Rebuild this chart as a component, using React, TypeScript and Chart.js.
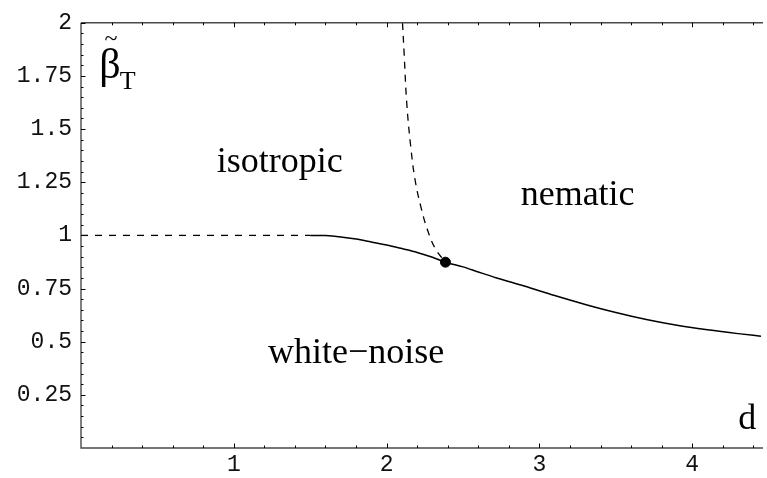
import React, { useEffect, useRef } from "react";
import { Chart, registerables } from "chart.js";

Chart.register(...registerables);

// ---- data ----
const isoX = [0, 1.5];
const isoY = [1, 1];

const solidX = [1.5, 1.6, 1.7, 1.8, 1.9, 2.0, 2.1, 2.2, 2.3, 2.385, 2.5, 2.6, 2.72, 2.9, 3.1, 3.3, 3.5, 3.7, 3.9, 4.1, 4.3, 4.45];
const solidY = [1.0, 0.999, 0.993, 0.983, 0.969, 0.955, 0.938, 0.92, 0.897, 0.874, 0.852, 0.828, 0.8, 0.762, 0.717, 0.675, 0.637, 0.604, 0.577, 0.556, 0.538, 0.526];

const nemX = [2.104, 2.115, 2.132, 2.158, 2.186, 2.223, 2.266, 2.32, 2.385];
const nemY = [2.0, 1.851, 1.619, 1.417, 1.262, 1.138, 1.029, 0.936, 0.874];

const critX = [2.385];
const critY = [0.874];

const xTicks = [1, 2, 3, 4];
const xTickLabels = ["1", "2", "3", "4"];
const yTicks = [0.25, 0.5, 0.75, 1, 1.25, 1.5, 1.75, 2];
const yTickLabels = ["0.25", "0.5", "0.75", "1", "1.25", "1.5", "1.75", "2"];

const regionLabels = ["isotropic", "nematic", "white\u2212noise"];
const regionLabelX = [1.3, 3.25, 1.8];
const regionLabelY = [1.3, 1.144, 0.4];

const X_MIN = 0, X_MAX = 4.45, Y_MIN = 0, Y_MAX = 2;

const zip = (xs: number[], ys: number[]) => xs.map((x, i) => ({ x, y: ys[i] }));

const framePlugin = {
  id: "framePlugin",
  afterDraw(chart: any) {
    const ctx = chart.ctx;
    const xs = chart.scales.x;
    const ys = chart.scales.y;
    const { left, right, top, bottom } = chart.chartArea;
    ctx.save();
    // frame
    ctx.strokeStyle = "#4a4a4a";
    ctx.lineWidth = 1.4;
    ctx.beginPath();
    ctx.moveTo(left, top);
    ctx.lineTo(left, bottom);
    ctx.lineTo(right + 2, bottom);
    ctx.moveTo(left, top);
    ctx.lineTo(right + 2, top);
    ctx.stroke();
    // ticks
    ctx.strokeStyle = "#000";
    ctx.lineWidth = 1;
    ctx.beginPath();
    for (let i = 1; i * 0.2 <= X_MAX + 1e-9; i++) {
      const v = i * 0.2;
      const major = Math.abs(v - Math.round(v)) < 1e-6;
      const len = major ? 4.5 : 2.5;
      const px = Math.round(xs.getPixelForValue(v)) + 0.5;
      ctx.moveTo(px, bottom);
      ctx.lineTo(px, bottom - len);
      ctx.moveTo(px, top);
      ctx.lineTo(px, top + len);
    }
    for (let i = 1; i * 0.05 <= Y_MAX + 1e-9; i++) {
      const v = i * 0.05;
      const major = Math.abs(v / 0.25 - Math.round(v / 0.25)) < 1e-6;
      const len = major ? 4.5 : 2.5;
      const py = Math.round(ys.getPixelForValue(v)) + 0.5;
      ctx.moveTo(left, py);
      ctx.lineTo(left + len, py);
    }
    ctx.stroke();

    // region labels
    ctx.fillStyle = "#000";
    ctx.textAlign = "center";
    ctx.textBaseline = "alphabetic";
    ctx.font = '36px "Liberation Serif", "Times New Roman", serif';
    regionLabels.forEach((t, i) => {
      ctx.fillText(t, xs.getPixelForValue(regionLabelX[i]), ys.getPixelForValue(regionLabelY[i]));
    });
    // axis label d
    ctx.fillText("d", xs.getPixelForValue(4.36), ys.getPixelForValue(0.088));

    // beta tilde T
    const bx = xs.getPixelForValue(0.12);
    const by = ys.getPixelForValue(1.74);
    ctx.textAlign = "left";
    ctx.font = '42px "Liberation Serif", "Times New Roman", serif';
    ctx.fillText("\u03B2", bx, by);
    const bw = ctx.measureText("\u03B2").width;
    ctx.font = '24px "Liberation Serif", "Times New Roman", serif';
    ctx.textAlign = "center";
    ctx.fillText("~", bx + bw / 2 + 1, by - 32);
    ctx.textAlign = "left";
    ctx.font = '26px "Liberation Serif", "Times New Roman", serif';
    ctx.fillText("T", bx + bw - 1, by + 11);
    ctx.restore();
  },
};

export default function App() {
  const ref = useRef<HTMLCanvasElement>(null);
  useEffect(() => {
    if (!ref.current) return;
    const tickFont = { family: '"Liberation Mono", "Courier New", monospace', size: 23 };
    const chart = new Chart(ref.current, {
      type: "scatter",
      data: {
        datasets: [
          {
            data: zip(isoX, isoY),
            showLine: true,
            borderColor: "#000",
            borderWidth: 1.3,
            borderDash: [7, 7],
            pointRadius: 0,
          },
          {
            data: zip(solidX, solidY),
            showLine: true,
            borderColor: "#000",
            borderWidth: 1.5,
            pointRadius: 0,
            tension: 0.4,
            cubicInterpolationMode: "monotone",
          },
          {
            data: zip(nemX, nemY),
            showLine: true,
            borderColor: "#000",
            borderWidth: 1.3,
            borderDash: [7, 6],
            pointRadius: 0,
            tension: 0.4,
          },
          {
            data: zip(critX, critY),
            showLine: false,
            pointRadius: 5,
            backgroundColor: "#000",
            borderColor: "#000",
          },
        ] as any,
      },
      options: {
        responsive: false,
        animation: false,
        devicePixelRatio: 1,
        layout: { padding: { top: 18, left: 0, right: 0, bottom: 0 } },
        plugins: { legend: { display: false }, tooltip: { enabled: false } },
        scales: {
          x: {
            type: "linear",
            min: X_MIN,
            max: X_MAX,
            grid: { display: false, drawTicks: false },
            border: { display: false },
            afterBuildTicks: (s: any) => {
              s.ticks = xTicks.map((v) => ({ value: v }));
            },
            afterFit: (s: any) => {
              s.height = 30;
            },
            ticks: {
              autoSkip: false,
              maxRotation: 0,
              padding: 3,
              color: "#111",
              font: tickFont,
              callback: (v: any) => {
                const i = xTicks.indexOf(Number(v));
                return i >= 0 ? xTickLabels[i] : "";
              },
            },
          },
          y: {
            type: "linear",
            min: Y_MIN,
            max: Y_MAX,
            grid: { display: false, drawTicks: false },
            border: { display: false },
            afterBuildTicks: (s: any) => {
              s.ticks = yTicks.map((v) => ({ value: v }));
            },
            afterFit: (s: any) => {
              s.width = 81;
            },
            ticks: {
              autoSkip: false,
              padding: 9,
              color: "#111",
              font: tickFont,
              callback: (v: any) => {
                const i = yTicks.indexOf(Number(v));
                return i >= 0 ? yTickLabels[i] : "";
              },
            },
          },
        },
      },
      plugins: [framePlugin],
    });
    return () => chart.destroy();
  }, []);
  return (
    <div style={{ position: "absolute", left: 0, top: 0, width: 767, height: 478, background: "#fff" }}>
      <canvas ref={ref} width={767} height={478} style={{ display: "block" }} />
    </div>
  );
}
